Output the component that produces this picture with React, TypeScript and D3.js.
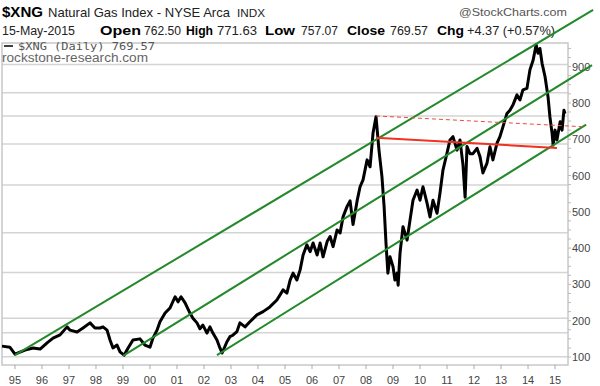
import React from "react";
import * as d3 from "d3";

// $XNG daily close (decimal year, value)
const xngYears = [
  1994.52, 1994.81, 1995.0, 1995.37, 1995.67, 1995.93, 1996.19, 1996.41, 1996.67, 1996.93,
  1997.04, 1997.3, 1997.52, 1997.78, 1997.96, 1998.15, 1998.26, 1998.41, 1998.52, 1998.63,
  1998.78, 1998.89, 1999.04, 1999.19, 1999.37, 1999.63, 1999.81, 2000.0, 2000.11, 2000.26,
  2000.37, 2000.56, 2000.74, 2000.93, 2001.04, 2001.15, 2001.3, 2001.48, 2001.59, 2001.74,
  2001.85, 2001.96, 2002.11, 2002.22, 2002.33, 2002.48, 2002.59, 2002.67, 2002.85, 2002.96,
  2003.07, 2003.22, 2003.33, 2003.52, 2003.7, 2003.96, 2004.19, 2004.44, 2004.7, 2004.93,
  2005.07, 2005.19, 2005.3, 2005.44, 2005.56, 2005.67, 2005.81, 2005.93, 2006.04, 2006.19,
  2006.3, 2006.41, 2006.56, 2006.67, 2006.78, 2006.93, 2007.04, 2007.15, 2007.3, 2007.41,
  2007.52, 2007.67, 2007.78, 2007.89, 2008.04, 2008.15, 2008.26, 2008.37, 2008.48, 2008.59,
  2008.67, 2008.74, 2008.81, 2008.89, 2009.0, 2009.07, 2009.15, 2009.19, 2009.26, 2009.37,
  2009.52, 2009.63, 2009.74, 2009.89, 2010.0, 2010.11, 2010.26, 2010.37, 2010.48, 2010.63,
  2010.74, 2010.85, 2011.0, 2011.11, 2011.22, 2011.37, 2011.48, 2011.59, 2011.67, 2011.74,
  2011.85, 2011.96, 2012.11, 2012.22, 2012.33, 2012.48, 2012.59, 2012.7, 2012.85, 2012.96,
  2013.07, 2013.22, 2013.33, 2013.44, 2013.59, 2013.7, 2013.81, 2013.96, 2014.07, 2014.19,
  2014.3, 2014.37, 2014.44, 2014.52, 2014.63, 2014.74, 2014.81, 2014.89, 2014.93, 2015.0,
  2015.07, 2015.19, 2015.26, 2015.33, 2015.37,
];
const xngClose = [
  130, 127, 108, 119, 125, 122, 139, 152, 161, 183,
  174, 169, 180, 194, 180, 180, 183, 174, 147, 125,
  133, 114, 105, 125, 147, 150, 133, 127, 152, 174,
  197, 221, 235, 266, 252, 266, 249, 221, 207, 194,
  178, 188, 166, 183, 166, 147, 125, 111, 142, 156,
  160, 170, 194, 183, 197, 216, 225, 238, 257, 285,
  276, 312, 331, 312, 340, 381, 409, 390, 414, 381,
  414, 376, 418, 432, 404, 450, 442, 486, 515, 530,
  465, 530, 569, 588, 643, 624, 717, 762, 670, 597,
  514, 414, 331, 376, 349, 312, 331, 298, 386, 459,
  422, 477, 532, 560, 532, 569, 524, 486, 532, 496,
  552, 615, 662, 698, 707, 670, 698, 630, 540, 680,
  660, 660, 675, 652, 607, 634, 679, 643, 689, 707,
  734, 771, 780, 794, 822, 808, 836, 840, 891, 918,
  960, 937, 950, 909, 872, 817, 762, 716, 684, 725,
  698, 748, 725, 780, 770,
];

// trend channel lines [startYear, startValue, endYear, endValue]
const channelLines = [
  [1995.0, 105, 2016.41, 1056],
  [1999.0, 103, 2016.37, 904],
  [2002.48, 105, 2016.15, 740],
];
const redSolid = [2008.37, 704, 2015.07, 676];
const redDashed = [2008.37, 764, 2016.11, 734];

const yTicks = [100, 200, 300, 400, 500, 600, 700, 800, 900];
const gridValues = [101, 167, 207, 333, 442, 574, 687, 764, 828, 906];
const xTickYears = d3.range(1995, 2016);

// quote line: [text, x, width, bold]
const quoteItems: [string, number, number, boolean][] = [
  ["15-May-2015", 2, 73, false],
  ["Open", 100, 41, true],
  ["762.50", 144, 37, false],
  ["High", 186, 27, true],
  ["771.63", 217, 40, false],
  ["Low", 265, 30, true],
  ["757.07", 301, 37, false],
  ["Close", 347, 38, true],
  ["769.57", 390, 38, false],
  ["Chg", 437, 27, true],
  ["+4.37 (+0.57%)", 467, 88, false],
];

const W = 600;
const H = 386;
const plot = { left: 2, right: 568, top: 43, bottom: 365 };

const App: React.FC = () => {
  const x = d3.scaleLinear().domain([1994.52, 2015.48]).range([plot.left, plot.right]);
  const y = d3.scaleLinear().domain([78, 965]).range([plot.bottom, plot.top]);

  const line = d3
    .line<number>()
    .x((_, i) => x(xngYears[i]))
    .y((d) => y(d));

  const seg = (s: number[]) => ({ x1: x(s[0]), y1: y(s[1]), x2: x(s[2]), y2: y(s[3]) });
  const minorTicks = d3.range(100, 965, 25);
  const sans = "'Liberation Sans', Arial, sans-serif";

  return (
    <div>
      <style>{"body{margin:0}"}</style>
      <svg width={W} height={H} style={{ display: "block", background: "#fff" }}>
        {/* header */}
        <text x={2} y={17} fontFamily={sans} fontSize={15} fontWeight="bold" fill="#000"
          textLength={41} lengthAdjust="spacingAndGlyphs">$XNG</text>
        <text x={48} y={17} fontFamily={sans} fontSize={13} fill="#222"
          textLength={182} lengthAdjust="spacingAndGlyphs">Natural Gas Index - NYSE Arca</text>
        <text x={237} y={17} fontFamily={sans} fontSize={11} fill="#222"
          textLength={28} lengthAdjust="spacingAndGlyphs">INDX</text>
        <text x={459} y={16} fontFamily={sans} fontSize={11.5} fill="#555"
          textLength={108} lengthAdjust="spacingAndGlyphs">@StockCharts.com</text>
        {quoteItems.map(([t, tx, w, b]) => (
          <text key={t + tx} x={tx} y={35} fontFamily={sans} fontSize={12.5}
            fontWeight={b ? "bold" : "normal"} fill={b ? "#000" : "#222"}
            textLength={w} lengthAdjust="spacingAndGlyphs">{t}</text>
        ))}

        {/* gridlines */}
        {gridValues.map((v) => (
          <line key={v} x1={plot.left} x2={plot.right} y1={y(v)} y2={y(v)} stroke="#d4d4d4" strokeWidth={1.5} />
        ))}
        <rect
          x={plot.left}
          y={plot.top}
          width={plot.right - plot.left}
          height={plot.bottom - plot.top}
          fill="none"
          stroke="#c8c8c8"
          strokeWidth={1.5}
        />

        {/* legend */}
        <line x1={4} x2={13} y1={46} y2={46} stroke="#000" strokeWidth={1.5} />
        <text x={18} y={49.5} fontFamily="'DejaVu Sans Mono', monospace" fontSize={11} fill="#555"
          textLength={137} lengthAdjust="spacingAndGlyphs">$XNG (Daily) 769.57</text>
        <text x={2} y={62} fontFamily={sans} fontSize={12.5} fill="#666"
          textLength={146} lengthAdjust="spacingAndGlyphs">rockstone-research.com</text>

        {/* right axis */}
        {minorTicks.map((v) => (
          <line key={v} x1={plot.right} x2={plot.right + 3} y1={y(v)} y2={y(v)} stroke="#bbb" />
        ))}
        {yTicks.map((v) => (
          <text key={v} x={572} y={y(v) + 4} fontFamily={sans} fontSize={11} fill="#444">{v}</text>
        ))}

        {/* bottom axis */}
        {xTickYears.map((yr) => (
          <g key={yr}>
            <line x1={x(yr)} x2={x(yr)} y1={plot.bottom} y2={plot.bottom + 4} stroke="#aaa" />
            <text x={x(yr)} y={384} textAnchor="middle" fontFamily={sans} fontSize={11} fill="#444">
              {String(yr % 100).padStart(2, "0")}
            </text>
          </g>
        ))}

        {/* price */}
        <path d={line(xngClose) ?? ""} fill="none" stroke="#000" strokeWidth={3} strokeLinejoin="round" />

        {/* annotations */}
        {channelLines.map((s, i) => (
          <line key={i} {...seg(s)} stroke="#23892a" strokeWidth={2} />
        ))}
        <line {...seg(redSolid)} stroke="#f2311f" strokeWidth={2} />
        <line {...seg(redDashed)} stroke="#f04a3a" strokeWidth={1} strokeDasharray="4,3" />
      </svg>
    </div>
  );
};

export default App;
